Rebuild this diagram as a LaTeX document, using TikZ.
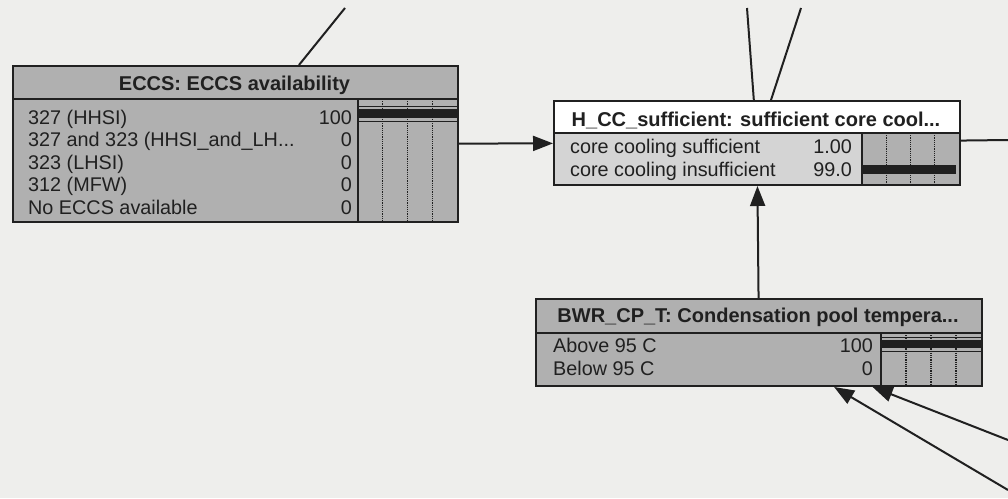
\documentclass[tikz,border=0pt]{standalone}
\usepackage{fontspec}
\setmainfont{Liberation Sans}
\usetikzlibrary{arrows.meta}
\usetikzlibrary{calc}
\definecolor{paper}{RGB}{238,238,236}
\definecolor{boxgray}{RGB}{176,176,176}
\definecolor{lgray}{RGB}{212,212,212}
\definecolor{ink}{RGB}{32,32,32}
\newcommand{\bargrid}[4]{\foreach \q in {1,2,3} {
        \draw[ink, densely dotted, line width=1.2pt] ({#1+\q*(#3-#1)/4}, #2) -- ({#1+\q*(#3-#1)/4}, #4);
    }
}
\newcommand{\drawarrow}{\draw[ink, line width=2pt, -{Triangle[length=20pt, width=15pt]}]}

\begin{document}
\begin{tikzpicture}[x=1pt, y=-1pt,
    netbox/.style={draw=ink, line width=2pt, anchor=north west, inner sep=0pt},
    nodetitle/.style={font=\fontsize{20}{24}\selectfont\bfseries, text=ink, anchor=base, inner sep=0pt},
    stname/.style={font=\fontsize{19.8}{23}\selectfont, text=ink, anchor=base west, inner sep=0pt},
    stval/.style={font=\fontsize{19.8}{23}\selectfont, text=ink, anchor=base east, inner sep=0pt},
    sep/.style={draw=ink, line width=1.5pt},
    conn/.style={draw=ink, line width=2pt}]
    \fill[paper] (0,0) rectangle (1008,498);
    \useasboundingbox (0,0) rectangle (1008,498);

    % ECCS node
    \node[netbox, fill=boxgray, minimum width=445pt, minimum height=156pt] (eccs) at (12,65) {};
    \draw[sep] (12,99) -- (457,99);
    \draw[sep] (358,99) -- (358,221);
    \bargrid{358}{99}{457}{221}
    \draw[ink, line width=0.9pt] (358,106) -- (457,106) (358,121) -- (457,121);
    \fill[ink] (358,109) rectangle (457,118);
    \node[nodetitle] (eccst) at (234.5,90.5) {ECCS: ECCS availability};
    \foreach \s/\v [count=\i from 0] in {{327 (HHSI)}/100, {327 and 323 (HHSI\_and\_LH...}/0,
        {323 (LHSI)}/0, {312 (MFW)}/0, {No ECCS available}/0} {
        \node[stname] (es\i) at (28, {124+22.5*\i}) {\s};
        \node[stval] (ev\i) at (352, {124+22.5*\i}) {\v};
    }

    % H_CC node
    \fill[white] (553,100) rectangle (959,133);
    \fill[lgray] (553,133) rectangle (862,184);
    \fill[boxgray] (862,133) rectangle (959,184);
    \node[netbox, minimum width=406pt, minimum height=84pt] (hcc) at (553,100) {};
    \draw[sep] (553,133) -- (959,133);
    \draw[sep] (862,133) -- (862,184);
    \bargrid{862}{133}{959}{184}
    \fill[ink] (862,165) rectangle (956,174);
    \node[nodetitle] (hcct) at (756,126) {H\_CC\_sufficient: sufficient core cool...};
    \node[stname] (hs0) at (570,153) {core cooling sufficient};
    \node[stval] (hv0) at (852,153) {1.00};
    \node[stname] (hs1) at (570,176) {core cooling insufficient};
    \node[stval] (hv1) at (852,176) {99.0};

    % BWR_CP_T node
    \node[netbox, fill=boxgray, minimum width=446pt, minimum height=87pt] (bwr) at (535,298) {};
    \draw[sep] (535,333) -- (981,333);
    \draw[sep] (881,333) -- (881,385);
    \bargrid{881}{333}{981}{385}
    \draw[ink, line width=0.9pt] (881,337) -- (981,337) (881,351) -- (981,351);
    \fill[ink] (881,340) rectangle (981,348);
    \node[nodetitle] (bwrt) at (758,322) {BWR\_CP\_T: Condensation pool tempera...};
    \node[stname] (bs0) at (553,352) {Above 95 C};
    \node[stval] (bv0) at (873,352) {100};
    \node[stname] (bs1) at (553,375) {Below 95 C};
    \node[stval] (bv1) at (873,375) {0};

    % Links to nodes outside the picture
    \coordinate (a1) at (345,8);
    \coordinate (a2) at (747,8);
    \coordinate (a3) at (801,8);
    \coordinate (a4) at (1008,140);
    \coordinate (a5) at (1008,490);
    \coordinate (a6) at (1008,440);
    \draw[conn] (a1) -- (eccs);
    \draw[conn] (a2) -- (hcc);
    \draw[conn] (a3) -- (hcc);
    \draw[conn] (hcc) -- (a4);

    % Draw arrows
    \drawarrow (eccs) -- (hcc);
    \drawarrow (bwr) -- (hcc);
    \drawarrow (a5) -- (bwr);
    \drawarrow (a6) -- (bwr);
\end{tikzpicture}
\end{document}
